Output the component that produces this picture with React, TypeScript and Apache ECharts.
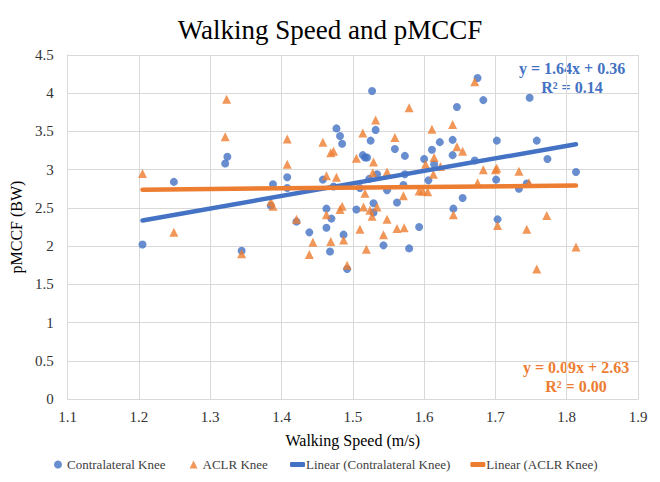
import React, { useEffect, useRef } from "react";
import * as echarts from "echarts";

const contraX = [1.205, 1.249, 1.321, 1.324, 1.344, 1.385, 1.388, 1.408, 1.408, 1.421, 1.439, 1.458, 1.463, 1.463, 1.470, 1.468, 1.477, 1.482, 1.485, 1.487, 1.492, 1.473, 1.505, 1.510, 1.527, 1.532, 1.525, 1.514, 1.517, 1.520, 1.523, 1.534, 1.529, 1.529, 1.543, 1.548, 1.559, 1.573, 1.573, 1.571, 1.562, 1.579, 1.593, 1.600, 1.606, 1.611, 1.614, 1.622, 1.640, 1.640, 1.646, 1.675, 1.683, 1.671, 1.654, 1.641, 1.702, 1.701, 1.703, 1.733, 1.744, 1.748, 1.758, 1.773, 1.813];
const contraY = [2.02, 2.84, 3.08, 3.17, 1.94, 2.53, 2.81, 2.90, 2.76, 2.32, 2.18, 2.87, 2.49, 2.24, 2.36, 1.93, 3.54, 3.44, 3.34, 2.15, 1.70, 2.78, 2.48, 2.76, 4.03, 3.52, 3.38, 3.19, 3.16, 3.16, 2.88, 2.94, 2.56, 2.44, 2.01, 2.73, 3.27, 3.18, 2.94, 2.80, 2.57, 1.97, 2.25, 3.14, 2.86, 3.26, 3.07, 3.36, 3.39, 3.19, 3.82, 4.20, 3.91, 3.12, 2.63, 2.49, 3.38, 2.87, 2.35, 2.75, 2.82, 3.94, 3.38, 3.14, 2.97];

const aclrX = [1.205, 1.249, 1.321, 1.323, 1.344, 1.385, 1.388, 1.408, 1.408, 1.421, 1.439, 1.444, 1.458, 1.463, 1.469, 1.473, 1.477, 1.463, 1.469, 1.482, 1.485, 1.487, 1.492, 1.505, 1.514, 1.532, 1.529, 1.528, 1.517, 1.515, 1.524, 1.527, 1.534, 1.510, 1.519, 1.548, 1.548, 1.543, 1.559, 1.571, 1.562, 1.572, 1.579, 1.593, 1.598, 1.605, 1.602, 1.611, 1.614, 1.613, 1.623, 1.640, 1.646, 1.654, 1.641, 1.671, 1.683, 1.700, 1.702, 1.733, 1.675, 1.747, 1.703, 1.744, 1.772, 1.813, 1.758];
const aclrY = [2.95, 2.18, 3.43, 3.92, 1.90, 2.58, 2.52, 3.40, 3.07, 2.35, 1.89, 2.05, 3.36, 2.92, 3.22, 3.24, 2.90, 2.41, 2.06, 2.48, 2.52, 2.08, 1.75, 3.15, 3.48, 3.65, 3.10, 2.96, 2.69, 2.51, 2.47, 2.39, 2.51, 2.22, 1.96, 2.97, 2.35, 2.15, 3.42, 2.66, 2.23, 2.24, 3.81, 2.72, 2.72, 2.71, 3.07, 3.53, 3.16, 2.94, 3.04, 3.59, 3.30, 3.24, 2.41, 4.15, 3.00, 3.00, 3.02, 2.98, 2.83, 2.83, 2.27, 2.22, 2.40, 1.99, 1.70];

const trendX = [1.205, 1.813];
const contraTrendY = [2.336, 3.333];
const aclrTrendY = [2.738, 2.793];

const seriesNames = ["Contralateral Knee", "ACLR Knee", "Linear (Contralateral Knee)", "Linear (ACLR Knee)"];
const contraEq = ["y = 1.64x + 0.36", "R² = 0.14"];
const aclrEq = ["y = 0.09x + 2.63", "R² = 0.00"];

const BLUE = "#4472C4";
const ORANGE = "#ED7D31";
const FONT = "Liberation Serif";

const pairs = (xs: number[], ys: number[]) => xs.map((x, i) => [x, ys[i]]);

export default function App() {
  const ref = useRef<HTMLDivElement>(null);
  useEffect(() => {
    if (!ref.current) return;
    const chart = echarts.init(ref.current, null, { renderer: "svg" });
    const eqStyle = (text: string, x: number, y: number, color: string) => ({
      type: "text",
      x,
      y,
      style: {
        text,
        fill: color,
        fontFamily: FONT,
        fontSize: 16,
        fontWeight: "bold",
        align: "center",
        verticalAlign: "middle",
        textAlign: "center",
        textVerticalAlign: "middle",
      },
    });
    chart.setOption({
      animation: false,
      backgroundColor: "#ffffff",
      textStyle: { fontFamily: FONT },
      title: {
        text: "Walking Speed and pMCCF",
        left: "center",
        top: 11,
        textStyle: { fontFamily: FONT, fontSize: 27, fontWeight: "normal", color: "#000" },
      },
      grid: { left: 67, right: 22, top: 55, bottom: 83, containLabel: false },
      legend: [
        {
          data: [
            { name: seriesNames[0], icon: "circle" },
            { name: seriesNames[1], icon: "triangle" },
          ],
          left: 52,
          top: 456,
          padding: 2,
          itemWidth: 8,
          itemHeight: 8,
          itemGap: 24,
          textStyle: { fontFamily: FONT, fontSize: 13, color: "#404040" },
        },
        {
          data: [
            { name: seriesNames[2], icon: "roundRect" },
            { name: seriesNames[3], icon: "roundRect" },
          ],
          left: 288,
          top: 456,
          padding: 2,
          itemWidth: 15,
          itemHeight: 5,
          itemGap: 20,
          textStyle: { fontFamily: FONT, fontSize: 13, color: "#404040", padding: [0, 0, 0, -4] },
        },
      ],
      xAxis: {
        type: "value",
        min: 1.1,
        max: 1.9,
        interval: 0.1,
        name: "Walking Speed (m/s)",
        nameLocation: "middle",
        nameGap: 33,
        nameTextStyle: { fontFamily: FONT, fontSize: 16, color: "#000" },
        axisLine: { show: true, lineStyle: { color: "#D9D9D9" } },
        axisTick: { show: false },
        splitLine: { show: true, lineStyle: { color: "#D9D9D9" } },
        axisLabel: {
          fontFamily: FONT,
          fontSize: 15,
          color: "#333",
          margin: 10,
          formatter: (v: number) => v.toFixed(1),
        },
      },
      yAxis: {
        type: "value",
        min: 0,
        max: 4.5,
        interval: 0.5,
        name: "pMCCF (BW)",
        nameLocation: "middle",
        nameGap: 34,
        nameTextStyle: { fontFamily: FONT, fontSize: 16, color: "#000" },
        axisLine: { show: true, lineStyle: { color: "#D9D9D9" } },
        axisTick: { show: false },
        splitLine: { show: true, lineStyle: { color: "#D9D9D9" } },
        axisLabel: { fontFamily: FONT, fontSize: 15, color: "#333", margin: 14 },
      },
      series: [
        {
          name: seriesNames[0],
          type: "scatter",
          symbol: "circle",
          symbolSize: 8,
          itemStyle: { color: BLUE },
          data: pairs(contraX, contraY),
          z: 3,
        },
        {
          name: seriesNames[1],
          type: "scatter",
          symbol: "triangle",
          symbolSize: 9,
          itemStyle: { color: ORANGE },
          data: pairs(aclrX, aclrY),
          z: 3,
        },
        {
          name: seriesNames[2],
          type: "line",
          symbol: "none",
          itemStyle: { color: BLUE },
          lineStyle: { color: BLUE, width: 4.5, cap: "round" },
          data: pairs(trendX, contraTrendY),
          z: 4,
        },
        {
          name: seriesNames[3],
          type: "line",
          symbol: "none",
          itemStyle: { color: ORANGE },
          lineStyle: { color: ORANGE, width: 4.5, cap: "round" },
          data: pairs(trendX, aclrTrendY),
          z: 4,
        },
      ],
      graphic: [
        eqStyle(contraEq[0], 572, 68, BLUE),
        eqStyle(contraEq[1], 572, 87, BLUE),
        eqStyle(aclrEq[0], 576, 367, ORANGE),
        eqStyle(aclrEq[1], 576, 386, ORANGE),
      ],
    });
    return () => chart.dispose();
  }, []);
  return <div ref={ref} style={{ position: "fixed", left: 0, top: 0, width: 660, height: 482 }} />;
}
